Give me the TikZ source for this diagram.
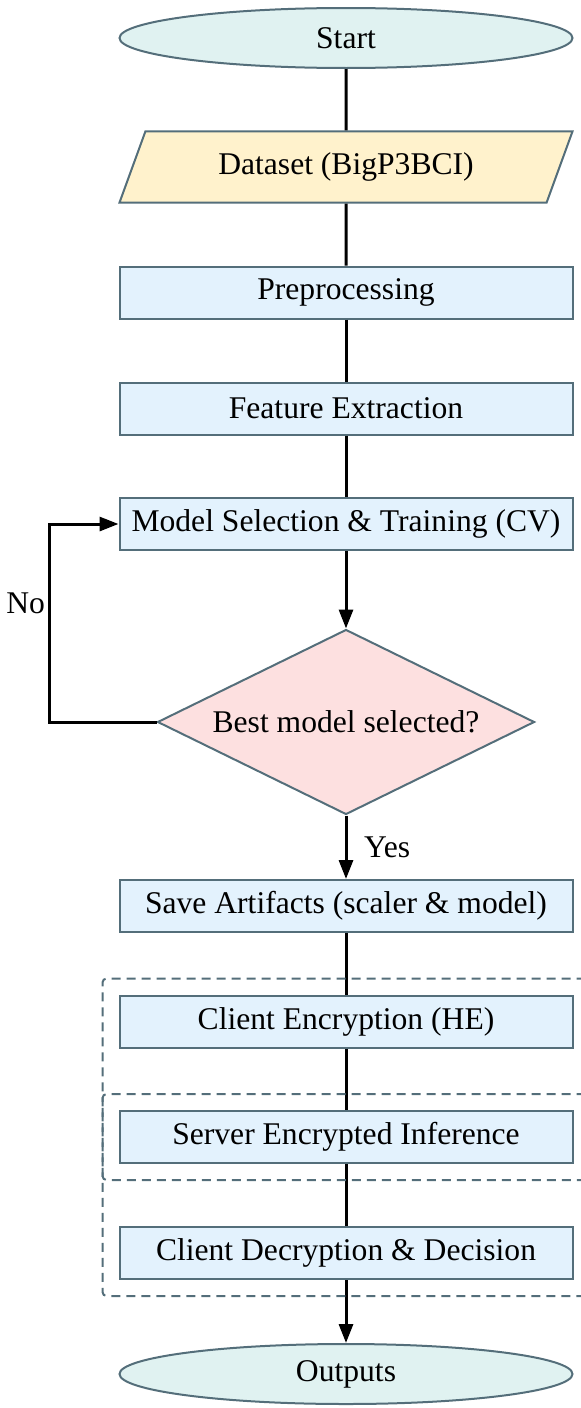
\documentclass[tikz,border=0pt]{standalone}
\usepackage{fontspec}
\setmainfont{Liberation Serif}
\usetikzlibrary{arrows.meta,shapes.geometric,fit}

\definecolor{termfill}{HTML}{E0F2F1}
\definecolor{datafill}{HTML}{FFF2CC}
\definecolor{stepfill}{HTML}{E3F2FD}
\definecolor{askfill}{HTML}{FDE0E0}
\definecolor{edgegray}{HTML}{546E7A}

\begin{document}
\begin{tikzpicture}[x=0.5pt, y=-0.5pt, >={Triangle[length=9.5pt, width=7pt]},
  font=\fontsize{15.8}{19}\selectfont,
  term/.style={ellipse, draw=edgegray, line width=1pt, fill=termfill,
    minimum width=226.5pt, minimum height=30pt, inner sep=0pt},
  iobox/.style={trapezium, trapezium left angle=70, trapezium right angle=110,
    trapezium stretches body, draw=edgegray, line width=1pt, fill=datafill,
    minimum width=226.5pt, inner xsep=0pt, inner ysep=10.6pt},
  stepbox/.style={rectangle, draw=edgegray, line width=1pt, fill=stepfill,
    minimum width=226.5pt, minimum height=26pt, inner sep=0pt},
  ask/.style={diamond, aspect=2.04, draw=edgegray, line width=1pt, fill=askfill,
    minimum width=188.5pt, minimum height=92.5pt, inner sep=0pt},
  flow/.style={black, line width=1.5pt},
  zone/.style={draw=edgegray, line width=1pt, dash pattern=on 4.5pt off 3pt,
    rounded corners=2pt, inner sep=8pt}]
  \useasboundingbox (0,0) rectangle (581,1408);
  % Pipeline steps
  \node[term]    (start) at (346,38)    {Start};
  \node[iobox]   (data)  at (346,167)   {Dataset (BigP3BCI)};
  \node[stepbox] (prep)  at (346,292.5) {Preprocessing};
  \node[stepbox] (feat)  at (346,408.5) {Feature Extraction};
  \node[stepbox] (model) at (346,524)   {Model Selection \& Training (CV)};
  \node[ask]     (best)  at (346,722)   {Best model selected?};
  \node[stepbox] (save)  at (346,906)   {Save Artifacts (scaler \& model)};
  \node[stepbox] (enc)   at (346,1021.5) {Client Encryption (HE)};
  \node[stepbox] (serv)  at (346,1137)  {Server Encrypted Inference};
  \node[stepbox] (dec)   at (346,1253)  {Client Decryption \& Decision};
  \node[term]    (out)   at (346,1374)  {Outputs};
  % Connectors
  \draw[flow] (start) -- (data);
  \draw[flow] (data) -- (prep);
  \draw[flow] (prep) -- (feat);
  \draw[flow] (feat) -- (model);
  \draw[flow, ->] (model) -- (best);
  \draw[flow, ->] (best) -- (save) node[midway, right, xshift=5pt] {Yes};
  \draw[flow, ->] (best.west) -- ++(-107,0) |- (model.west)
    node[pos=0.3, left, inner sep=1.5pt] {No};
  \draw[flow] (save) -- (enc);
  \draw[flow] (enc) -- (serv);
  \draw[flow] (serv) -- (dec);
  \draw[flow, ->] (dec) -- (out);
  % Client / server zones
  \node[zone, fit=(enc) (serv)] (zonea) {};
  \node[zone, fit=(serv) (dec)] (zoneb) {};
\end{tikzpicture}
\end{document}
